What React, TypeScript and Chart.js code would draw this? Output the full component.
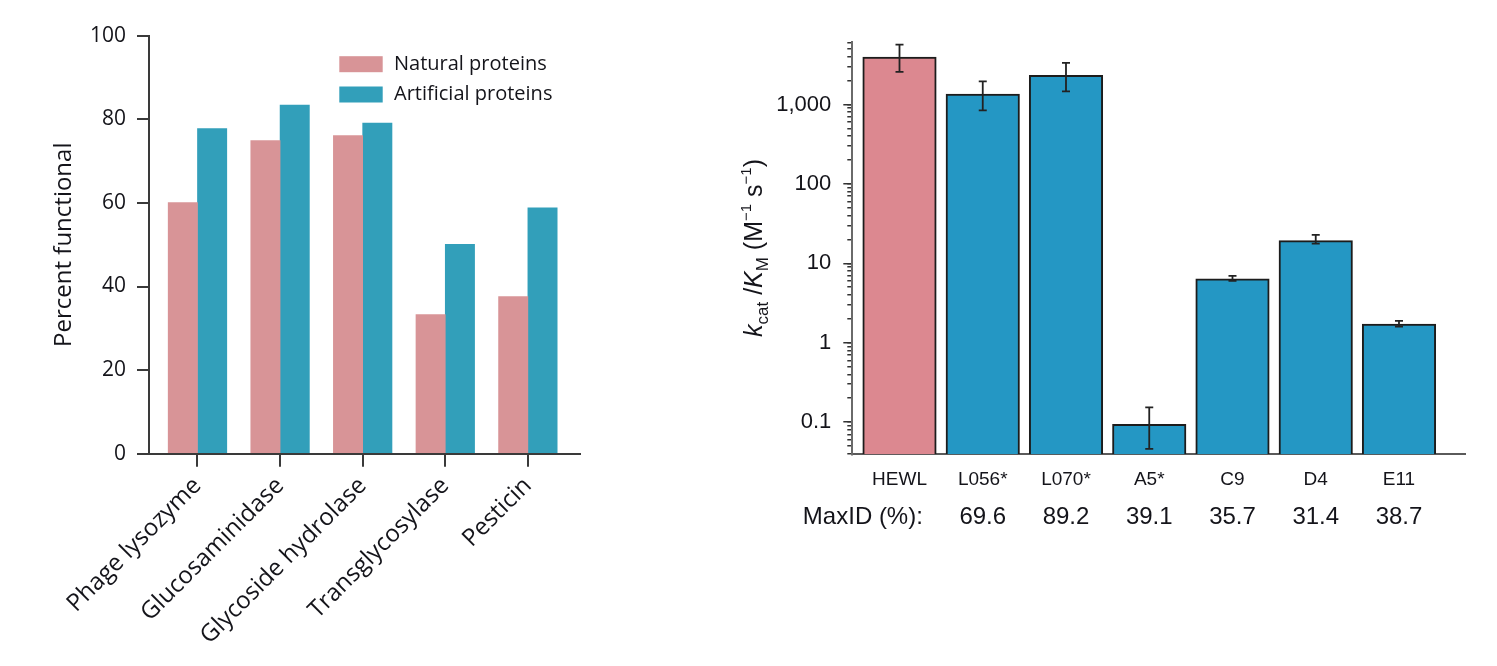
import React, { useEffect, useRef } from 'react';
import { Chart, registerables } from 'chart.js';

Chart.register(...registerables);

// ---------- Left chart data ----------
const leftCategories = ['Phage lysozyme', 'Glucosaminidase', 'Glycoside hydrolase', 'Transglycosylase', 'Pesticin'];
const naturalValues = [60.1, 74.9, 76.1, 33.3, 37.6];
const artificialValues = [77.8, 83.4, 79.1, 50.1, 58.8];
const leftYTicks = [0, 20, 40, 60, 80, 100];
const seriesLabels = ['Natural proteins', 'Artificial proteins'];

// ---------- Right chart data ----------
const rightCategories = ['HEWL', 'L056*', 'L070*', 'A5*', 'C9', 'D4', 'E11'];
const kcatValues = [3970, 1356, 2330, 0.0935, 6.36, 19.3, 1.71];
const kcatErrLow = [2570, 843, 1463, 0.046, 6.0, 17.7, 1.6];
const kcatErrHigh = [5680, 1950, 3340, 0.153, 6.93, 22.8, 1.88];
const maxIdHeader = 'MaxID (%):';
const maxIdValues = ['69.6', '89.2', '39.1', '35.7', '31.4', '38.7'];
const rightMajorTicks = [0.1, 1, 10, 100, 1000];
const rightMajorTickLabels = ['0.1', '1', '10', '100', '1,000'];

// ---------- Styles ----------
const PINK_L = '#d89497';
const TEAL_L = '#329fba';
const PINK_R = '#dc8890';
const BLUE_R = '#2497c4';
const LEFT_FONT = "'Open Sans', 'DejaVu Sans', sans-serif";
const RIGHT_FONT = "'Liberation Sans', Arial, sans-serif";
const TEXT = '#14141a';

const leftLegendPlugin = {
  id: 'leftLegend',
  afterDraw(chart: any) {
    const ctx = chart.ctx;
    const rows = [64.2, 94.5];
    ctx.save();
    ctx.font = `20px ${LEFT_FONT}`;
    ctx.textBaseline = 'middle';
    ctx.textAlign = 'left';
    chart.data.datasets.forEach((ds: any, i: number) => {
      ctx.fillStyle = ds.backgroundColor;
      ctx.fillRect(339.3, rows[i] - 8, 43.4, 16);
      ctx.fillStyle = TEXT;
      ctx.fillText(ds.label, 394, rows[i]);
    });
    ctx.restore();
  },
};

const errorBarPlugin = {
  id: 'errorBars',
  afterDatasetsDraw(chart: any) {
    const ctx = chart.ctx;
    const xs = chart.scales.x;
    const ys = chart.scales.y;
    ctx.save();
    ctx.strokeStyle = '#222';
    ctx.lineWidth = 1.8;
    kcatValues.forEach((_, i) => {
      const px = xs.getPixelForValue(i);
      const lo = ys.getPixelForValue(kcatErrLow[i]);
      const hi = ys.getPixelForValue(kcatErrHigh[i]);
      ctx.beginPath();
      ctx.moveTo(px, lo);
      ctx.lineTo(px, hi);
      ctx.moveTo(px - 4, lo);
      ctx.lineTo(px + 4, lo);
      ctx.moveTo(px - 4, hi);
      ctx.lineTo(px + 4, hi);
      ctx.stroke();
    });
    ctx.restore();
  },
};

const rightTitlePlugin = {
  id: 'rightTitle',
  afterDraw(chart: any) {
    const ctx = chart.ctx;
    const segs = [
      { t: 'k', size: 25, italic: true, dy: 0 },
      { t: 'cat', size: 17, italic: false, dy: 6 },
      { t: ' /', size: 25, italic: false, dy: 0 },
      { t: 'K', size: 25, italic: true, dy: 0 },
      { t: 'M', size: 17, italic: false, dy: 6 },
      { t: ' (M', size: 25, italic: false, dy: 0 },
      { t: '\u22121', size: 15, italic: false, dy: -11 },
      { t: ' s', size: 25, italic: false, dy: 0 },
      { t: '\u22121', size: 15, italic: false, dy: -11 },
      { t: ')', size: 25, italic: false, dy: 0 },
    ];
    ctx.save();
    const fontOf = (s: any) => `${s.italic ? 'italic ' : ''}${s.size}px ${RIGHT_FONT}`;
    let total = 0;
    const widths = segs.map((s) => {
      ctx.font = fontOf(s);
      const w = ctx.measureText(s.t).width;
      total += w;
      return w;
    });
    const yMid = (chart.chartArea.top + chart.chartArea.bottom) / 2;
    ctx.translate(61.5, yMid);
    ctx.rotate(-Math.PI / 2);
    ctx.fillStyle = TEXT;
    ctx.textBaseline = 'alphabetic';
    ctx.textAlign = 'left';
    let x = -total / 2;
    segs.forEach((s, i) => {
      ctx.font = fontOf(s);
      ctx.fillText(s.t, x, s.dy);
      x += widths[i];
    });
    ctx.restore();
  },
};

function leftConfig(): any {
  return {
    type: 'bar',
    data: {
      datasets: [
        {
          label: seriesLabels[0],
          data: naturalValues.map((v, i) => ({ x: i, y: v })),
          backgroundColor: PINK_L,
          barThickness: 29.3,
        },
        {
          label: seriesLabels[1],
          data: artificialValues.map((v, i) => ({ x: i, y: v })),
          backgroundColor: TEAL_L,
          barThickness: 29.3,
        },
      ],
    },
    options: {
      animation: false,
      responsive: false,
      devicePixelRatio: 1,
      layout: { padding: { left: 0, top: 35.7, right: 120.5, bottom: 0 } },
      plugins: { legend: { display: false }, tooltip: { enabled: false } },
      scales: {
        x: {
          type: 'linear',
          min: -0.587,
          max: 4.625,
          offset: false,
          afterBuildTicks: (s: any) => {
            s.ticks = leftCategories.map((_, i) => ({ value: i }));
          },
          afterFit: (s: any) => {
            s.height = 666 - 453.7;
          },
          ticks: {
            autoSkip: false,
            minRotation: 45,
            maxRotation: 45,
            padding: 5,
            color: TEXT,
            font: { family: LEFT_FONT, size: 24 },
            callback: (_v: any, i: number) => leftCategories[i],
          },
          grid: { drawOnChartArea: false, offset: false, tickLength: 13, color: '#3a3a3a', lineWidth: 2 },
          border: { display: true, color: '#3a3a3a', width: 2 },
        },
        y: {
          type: 'linear',
          min: 0,
          max: 100,
          afterBuildTicks: (s: any) => {
            s.ticks = leftYTicks.map((v) => ({ value: v }));
          },
          afterFit: (s: any) => {
            s.width = 149;
          },
          ticks: {
            padding: 11,
            color: TEXT,
            font: { family: LEFT_FONT, size: 21 },
            callback: (v: any) => String(v),
          },
          grid: { drawOnChartArea: false, tickLength: 12, color: '#3a3a3a', lineWidth: 2 },
          border: { display: true, color: '#3a3a3a', width: 2 },
          title: {
            display: true,
            text: 'Percent functional',
            color: TEXT,
            font: { family: LEFT_FONT, size: 24 },
            padding: { top: 49.6, bottom: 0 },
          },
        },
      },
    },
    plugins: [leftLegendPlugin],
  };
}

function rightConfig(): any {
  const yMin = 0.0393;
  const yMax = 6180;
  const xMin = -0.567;
  const xMax = 6.793;
  return {
    type: 'bar',
    data: {
      datasets: [
        {
          label: 'kcat/KM',
          data: kcatValues.map((v, i) => ({ x: i, y: v })),
          backgroundColor: kcatValues.map((_, i) => (i === 0 ? PINK_R : BLUE_R)),
          borderColor: '#1c1c1c',
          borderWidth: 2,
          barThickness: 73.5,
        },
      ],
    },
    options: {
      animation: false,
      responsive: false,
      devicePixelRatio: 1,
      layout: { padding: { left: 0, top: 41.7, right: 32, bottom: 0 } },
      plugins: { legend: { display: false }, tooltip: { enabled: false } },
      scales: {
        x: {
          type: 'linear',
          position: 'bottom',
          weight: 0,
          min: xMin,
          max: xMax,
          offset: false,
          afterBuildTicks: (s: any) => {
            s.ticks = rightCategories.map((_, i) => ({ value: i }));
          },
          afterFit: (s: any) => {
            s.height = 36;
          },
          ticks: {
            autoSkip: false,
            maxRotation: 0,
            padding: 13.6,
            color: TEXT,
            font: { family: RIGHT_FONT, size: 19 },
            callback: (_v: any, i: number) => rightCategories[i],
          },
          grid: { display: false, drawTicks: false },
          border: { display: true, color: '#5a5a5a', width: 2 },
        },
        x2: {
          type: 'linear',
          position: 'bottom',
          weight: 1,
          min: xMin,
          max: xMax,
          offset: false,
          afterBuildTicks: (s: any) => {
            s.ticks = [{ value: -0.44 }, ...maxIdValues.map((_, i) => ({ value: i + 1 }))];
          },
          afterFit: (s: any) => {
            s.height = 666 - 454.3 - 36;
          },
          ticks: {
            autoSkip: false,
            maxRotation: 0,
            padding: 13,
            color: TEXT,
            font: { family: RIGHT_FONT, size: 24 },
            callback: (_v: any, i: number) => (i === 0 ? maxIdHeader : maxIdValues[i - 1]),
          },
          grid: { display: false, drawTicks: false },
          border: { display: false },
        },
        y: {
          type: 'logarithmic',
          position: 'left',
          weight: 1,
          min: yMin,
          max: yMax,
          afterBuildTicks: (s: any) => {
            s.ticks = rightMajorTicks.map((v) => ({ value: v }));
          },
          afterFit: (s: any) => {
            s.width = 152.3;
          },
          ticks: {
            autoSkip: false,
            padding: 12,
            color: TEXT,
            font: { family: RIGHT_FONT, size: 22 },
            callback: (_v: any, i: number) => rightMajorTickLabels[i],
          },
          grid: { drawOnChartArea: false, tickLength: 9, color: '#333', lineWidth: 1.5 },
          border: { display: true, color: '#6a6a6a', width: 2 },
        },
        yMinor: {
          type: 'logarithmic',
          position: 'left',
          weight: 0,
          min: yMin,
          max: yMax,
          afterBuildTicks: (s: any) => {
            const t: any[] = [];
            for (let e = -2; e <= 3; e++) {
              for (let m = 1; m <= 9; m++) {
                const v = m * Math.pow(10, e);
                if (v >= s.min && v <= s.max) t.push({ value: v });
              }
            }
            s.ticks = t;
          },
          afterFit: (s: any) => {
            s.width = 0;
          },
          ticks: { display: false, autoSkip: false },
          grid: { drawOnChartArea: false, tickLength: 5, color: '#333', lineWidth: 1.5 },
          border: { display: false },
        },
      },
    },
    plugins: [errorBarPlugin, rightTitlePlugin],
  };
}

export default function App() {
  const leftRef = useRef<HTMLCanvasElement>(null);
  const rightRef = useRef<HTMLCanvasElement>(null);

  useEffect(() => {
    const l = new Chart(leftRef.current as HTMLCanvasElement, leftConfig());
    const r = new Chart(rightRef.current as HTMLCanvasElement, rightConfig());
    return () => {
      l.destroy();
      r.destroy();
    };
  }, []);

  return (
    <div style={{ position: 'fixed', left: 0, top: 0, width: 1497, height: 666, background: '#fff' }}>
      <canvas
        ref={leftRef}
        width={700}
        height={666}
        style={{ position: 'absolute', left: 0, top: 0, width: 700, height: 666 }}
      />
      <canvas
        ref={rightRef}
        width={797}
        height={666}
        style={{ position: 'absolute', left: 700, top: 0, width: 797, height: 666 }}
      />
    </div>
  );
}
